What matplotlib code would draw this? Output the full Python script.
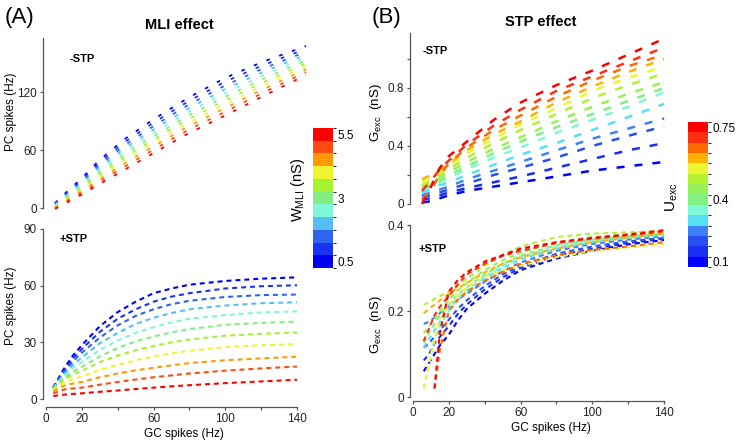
import numpy as np
import matplotlib.pyplot as plt
import matplotlib.cm as cm
from matplotlib.colors import ListedColormap, BoundaryNorm

plt.rcParams['font.family'] = ['Liberation Sans', 'DejaVu Sans']
plt.rcParams['mathtext.fontset'] = 'custom'
plt.rcParams['mathtext.rm'] = 'Liberation Sans'
plt.rcParams['mathtext.it'] = 'Liberation Sans:italic'

W, H = 736, 444

# ---- (A) MLI effect ----
w_mli = [0.5, 1.0, 1.5, 2.0, 2.5, 3.0, 3.5, 4.0, 4.5, 5.0, 5.5]
w_colors = ['#0000F5', '#1B32F2', '#2F63F2', '#55BEF7', '#7FF7D9', '#82EE82',
            '#A9F233', '#EEF533', '#FF9A00', '#FF4B12', '#FF0000']

gc_a_top = [5, 10, 20, 30, 45, 60, 80, 100, 120, 145]
pc_nostp = [
    [5.0, 14, 31.0, 50.0, 73.0, 92.0, 115.0, 135.0, 151.0, 168],
    [4.4, 13, 29.3, 47.5, 69.8, 88.5, 111.3, 131.1, 147.4, 165],
    [3.8, 12, 27.6, 45.0, 66.6, 85.0, 107.6, 127.2, 143.8, 162],
    [3.2, 11, 25.9, 42.5, 63.4, 81.5, 103.9, 123.3, 140.2, 159],
    [2.6, 10, 24.2, 40.0, 60.2, 78.0, 100.2, 119.4, 136.6, 156],
    [2.0, 9, 22.5, 37.5, 57.0, 74.5, 96.5, 115.5, 133.0, 153],
    [1.4, 8, 20.8, 35.0, 53.8, 71.0, 92.8, 111.6, 129.4, 150],
    [0.8, 7, 19.1, 32.5, 50.6, 67.5, 89.1, 107.7, 125.8, 147],
    [0.2, 6, 17.4, 30.0, 47.4, 64.0, 85.4, 103.8, 122.2, 144],
    [-0.4, 5, 15.7, 27.5, 44.2, 60.5, 81.7, 99.9, 118.6, 141],
    [-1.0, 4, 14.0, 25.0, 41.0, 57.0, 78.0, 96.0, 115.0, 138],
]

gc_a_bot = [4, 7, 10, 15, 20, 30, 40, 50, 60, 70, 80, 100, 120, 140]
pc_stp = [
    [6.0, 11.0, 16.0, 23.0, 28.5, 38.5, 46.0, 51.5, 56.0, 58.5, 60.5, 62.5, 63.7, 64.4],
    [6.0, 10.5, 15.0, 21.5, 26.5, 35.5, 42.5, 47.5, 51.5, 54.2, 56.0, 58.5, 59.7, 60.2],
    [5.8, 10.0, 14.0, 20.0, 24.5, 32.5, 39.0, 44.0, 47.5, 50.2, 52.0, 54.0, 55.0, 55.3],
    [5.6, 9.5, 13.0, 18.0, 22.0, 29.5, 35.0, 39.7, 43.0, 45.5, 47.5, 49.5, 50.7, 51.2],
    [5.4, 9.0, 12.0, 16.5, 19.5, 26.0, 31.0, 35.0, 38.0, 40.5, 42.5, 44.5, 45.8, 46.4],
    [5.2, 8.5, 11.0, 14.5, 17.0, 22.5, 27.0, 30.5, 33.0, 35.3, 37.0, 39.3, 40.3, 41.0],
    [5.0, 7.8, 10.0, 13.0, 15.0, 19.5, 23.0, 25.8, 28.0, 30.0, 31.5, 33.5, 34.5, 35.2],
    [4.6, 6.8, 8.5, 10.5, 12.0, 15.5, 18.0, 20.5, 22.5, 24.2, 25.5, 27.5, 28.5, 29.0],
    [4.0, 5.6, 7.0, 8.2, 9.0, 11.5, 13.5, 15.2, 16.5, 17.8, 19.0, 20.5, 21.5, 22.4],
    [3.0, 4.0, 5.0, 5.6, 6.0, 7.6, 9.0, 10.3, 11.5, 12.5, 13.5, 15.0, 16.2, 17.2],
    [1.5, 2.0, 2.3, 2.7, 3.0, 3.8, 4.5, 5.3, 6.0, 6.7, 7.3, 8.4, 9.3, 10.2],
]

# ---- (B) STP effect ----
u_exc = [0.10, 0.15, 0.20, 0.25, 0.30, 0.35, 0.40, 0.45, 0.50, 0.55, 0.60, 0.65, 0.70, 0.75]
u_colors = ['#0000FF', '#1A2EF2', '#2650F2', '#3C82F5', '#55E0F5', '#80F7D5', '#80F080',
            '#98F058', '#B2F232', '#EEF533', '#FFB300', '#FF6A00', '#FF3010', '#FF0000']

gc_b_top = [5, 10, 15, 20, 30, 45, 60, 80, 100, 120, 140]
gexc_nostp = [
    [0.01, 0.02, 0.04, 0.06, 0.09, 0.12, 0.15, 0.19, 0.23, 0.26, 0.29],
    [0.03, 0.04, 0.06, 0.08, 0.11, 0.15, 0.19, 0.25, 0.31, 0.37, 0.42],
    [0.05, 0.06, 0.08, 0.10, 0.14, 0.20, 0.25, 0.32, 0.40, 0.47, 0.535],
    [0.06, 0.08, 0.10, 0.12, 0.17, 0.23, 0.29, 0.37, 0.45, 0.52, 0.59],
    [0.08, 0.10, 0.13, 0.15, 0.20, 0.27, 0.34, 0.42, 0.51, 0.60, 0.69],
    [0.10, 0.12, 0.15, 0.18, 0.24, 0.32, 0.39, 0.49, 0.58, 0.67, 0.77],
    [0.11, 0.13, 0.16, 0.20, 0.26, 0.35, 0.43, 0.53, 0.62, 0.71, 0.80],
    [0.12, 0.15, 0.18, 0.22, 0.29, 0.38, 0.46, 0.57, 0.67, 0.76, 0.84],
    [0.13, 0.16, 0.20, 0.24, 0.32, 0.42, 0.51, 0.62, 0.73, 0.82, 0.90],
    [0.15, 0.18, 0.22, 0.26, 0.35, 0.45, 0.55, 0.66, 0.78, 0.87, 0.95],
    [0.17, 0.20, 0.24, 0.28, 0.37, 0.48, 0.57, 0.70, 0.81, 0.91, 1.00],
    [0.03, 0.10, 0.20, 0.28, 0.39, 0.51, 0.61, 0.74, 0.85, 0.95, 1.03],
    [0.09, 0.16, 0.24, 0.30, 0.41, 0.54, 0.65, 0.78, 0.88, 0.98, 1.08],
    [0.00, 0.12, 0.25, 0.33, 0.43, 0.58, 0.70, 0.82, 0.92, 1.03, 1.14],
]

gc_b_bot = [6, 9, 12, 15, 20, 25, 30, 40, 50, 60, 80, 100, 120, 140]
nan = np.nan
gexc_stp = [
    [0.060, 0.080, 0.100, 0.120, 0.145, 0.178, 0.205, 0.240, 0.270, 0.295, 0.322, 0.340, 0.355, 0.365],
    [0.085, 0.100, 0.125, 0.140, 0.165, 0.193, 0.215, 0.250, 0.278, 0.300, 0.328, 0.345, 0.358, 0.368],
    [0.115, 0.125, 0.140, 0.155, 0.180, 0.205, 0.225, 0.258, 0.285, 0.305, 0.333, 0.350, 0.362, 0.370],
    [0.170, 0.175, 0.185, 0.195, 0.210, 0.227, 0.240, 0.268, 0.292, 0.313, 0.340, 0.356, 0.366, 0.374],
    [0.115, 0.135, 0.155, 0.175, 0.205, 0.228, 0.245, 0.275, 0.300, 0.320, 0.345, 0.360, 0.370, 0.377],
    [0.020, 0.080, 0.130, 0.165, 0.200, 0.230, 0.250, 0.280, 0.305, 0.325, 0.350, 0.363, 0.372, 0.378],
    [0.125, 0.150, 0.170, 0.190, 0.215, 0.238, 0.255, 0.285, 0.310, 0.328, 0.353, 0.366, 0.374, 0.380],
    [0.148, 0.165, 0.180, 0.200, 0.225, 0.248, 0.265, 0.295, 0.318, 0.335, 0.360, 0.372, 0.378, 0.383],
    [0.215, 0.220, 0.228, 0.235, 0.245, 0.260, 0.275, 0.305, 0.330, 0.350, 0.372, 0.380, 0.383, 0.386],
    [0.020, 0.080, 0.140, 0.180, 0.215, 0.238, 0.255, 0.280, 0.295, 0.305, 0.325, 0.340, 0.348, 0.356],
    [0.195, 0.205, 0.215, 0.225, 0.240, 0.253, 0.265, 0.290, 0.310, 0.325, 0.345, 0.360, 0.370, 0.380],
    [nan, nan, 0.020, 0.110, 0.200, 0.226, 0.245, 0.270, 0.290, 0.310, 0.330, 0.342, 0.350, 0.360],
    [0.130, 0.160, 0.190, 0.210, 0.235, 0.262, 0.285, 0.310, 0.328, 0.340, 0.358, 0.368, 0.376, 0.385],
    [nan, nan, 0.020, 0.150, 0.245, 0.272, 0.290, 0.315, 0.330, 0.345, 0.360, 0.370, 0.378, 0.388],
]

fig = plt.figure(figsize=(W / 100, H / 100), dpi=100)


def place(x0, xppu, xlim, y0, yppu, ylim):
    # x0/y0: pixel of data zero, xppu/yppu: pixels per data unit
    left = x0 + xlim[0] * xppu
    right = x0 + xlim[1] * xppu
    bot = y0 - ylim[0] * yppu
    top = y0 - ylim[1] * yppu
    ax = fig.add_axes([left / W, 1 - bot / H, (right - left) / W, (bot - top) / H])
    ax.set_xlim(xlim)
    ax.set_ylim(ylim)
    ax.patch.set_visible(False)
    for s in ['top', 'right']:
        ax.spines[s].set_visible(False)
    for s in ['left', 'bottom']:
        ax.spines[s].set_color('#555555')
        ax.spines[s].set_linewidth(0.9)
    ax.tick_params(labelsize=8.5, colors='#555555', labelcolor='#222222',
                   length=2.5, width=0.9, pad=2)
    return ax


def no_xaxis(ax):
    ax.spines['bottom'].set_visible(False)
    ax.set_xticks([])


def gc_axis(ax):
    ax.spines['bottom'].set_bounds(0, 140)
    ax.set_xticks(range(0, 141, 20))
    ax.set_xticklabels(['0', '20', '', '60', '', '100', '', '140'])


def ftext(x, y, s, **kw):
    fig.text(x / W, 1 - y / H, s, **kw)


# A top
ax = place(46, 1.793, (-1.7, 150), 208, 0.964, (-4, 176))
for vals, c in zip(pc_nostp, w_colors):
    ax.plot(gc_a_top, vals, color=c, lw=1.3, ls=(0, (2.0, 5.5)), clip_on=False)
no_xaxis(ax)
ax.spines['left'].set_bounds(0, 176)
ax.set_yticks([0, 60, 120])
ftext(70, 59, '-STP', fontsize=8, fontweight='bold', va='center')

# A bottom
ax = place(46, 1.793, (-1.7, 150), 399, 1.889, (-4.2, 90))
for vals, c in zip(pc_stp, w_colors):
    ax.plot(gc_a_bot, vals, color=c, lw=1.5, ls=(0, (2.4, 1.9)))
gc_axis(ax)
ax.spines['left'].set_bounds(0, 90)
ax.set_yticks([0, 30, 60, 90])
ftext(60, 239, '+STP', fontsize=8, fontweight='bold', va='center')

# B top
ax = place(413, 1.793, (-1.7, 145), 204, 145, (-0.03, 1.18))
for vals, c in zip(gexc_nostp, u_colors):
    ax.plot(gc_b_top, vals, color=c, lw=1.8, ls=(0, (3.2, 4.0)))
no_xaxis(ax)
ax.spines['left'].set_bounds(0, 1.18)
ax.set_yticks([0, 0.2, 0.4, 0.6, 0.8, 1.0])
ax.set_yticklabels(['0', '', '0.4', '', '0.8', ''])
ftext(423, 51, '-STP', fontsize=8, fontweight='bold', va='center')

# B bottom
ax = place(413, 1.793, (-1.7, 145), 397, 430, (-0.0093, 0.4))
for vals, c in zip(gexc_stp, u_colors):
    ax.plot(gc_b_bot, vals, color=c, lw=1.5, ls=(0, (2.4, 1.9)))
gc_axis(ax)
ax.spines['left'].set_bounds(0, 0.4)
ax.set_yticks([0, 0.2, 0.4])
ax.set_yticklabels(['0', '0.2', '0.4'])
ftext(419, 249, '+STP', fontsize=8, fontweight='bold', va='center')


# colorbars
def levels_bar(x0, x1, y0, y1, vals, colors, ticks, labels, step):
    cax = fig.add_axes([x0 / W, 1 - y1 / H, (x1 - x0) / W, (y1 - y0) / H])
    bounds = [v - step / 2 for v in vals] + [vals[-1] + step / 2]
    norm = BoundaryNorm(bounds, len(colors))
    sm = cm.ScalarMappable(norm=norm, cmap=ListedColormap(colors))
    cb = fig.colorbar(sm, cax=cax, ticks=ticks)
    cb.ax.set_yticklabels(labels)
    cb.outline.set_visible(False)
    cb.ax.tick_params(length=0, labelsize=8.5, pad=3)
    return cb


levels_bar(313, 333, 128, 268, w_mli, w_colors, [0.5, 3, 5.5], ['0.5', '3', '5.5'], 0.5)
levels_bar(688, 708, 122, 267, u_exc, u_colors, [0.1, 0.4, 0.75], ['0.1', '0.4', '0.75'], 0.05)

# labels
ftext(5, 18, '(A)', fontsize=16, va='center')
ftext(372, 18, '(B)', fontsize=16, va='center')
ftext(179, 25, 'MLI effect', fontsize=10.5, fontweight='bold', ha='center', va='center')
ftext(541, 22, 'STP effect', fontsize=10.5, fontweight='bold', ha='center', va='center')
ftext(11, 112, 'PC spikes (Hz)', fontsize=8.5, rotation=90, ha='center', va='center')
ftext(11, 306, 'PC spikes (Hz)', fontsize=8.5, rotation=90, ha='center', va='center')
ftext(376, 113, r'G$_{\mathrm{exc}}$  (nS)', fontsize=9.5, rotation=90, ha='center', va='center')
ftext(376, 325, r'G$_{\mathrm{exc}}$  (nS)', fontsize=9.5, rotation=90, ha='center', va='center')
ftext(184, 434, 'GC spikes (Hz)', fontsize=8.5, ha='center', va='center')
ftext(551, 428, 'GC spikes (Hz)', fontsize=8.5, ha='center', va='center')
ftext(298, 190, r'W$_{\mathrm{MLI}}$ (nS)', fontsize=10.5, rotation=90, ha='center', va='center')
ftext(672, 197, r'U$_{\mathrm{exc}}$', fontsize=11, rotation=90, ha='center', va='center')

fig.savefig('out.png', dpi=100)
